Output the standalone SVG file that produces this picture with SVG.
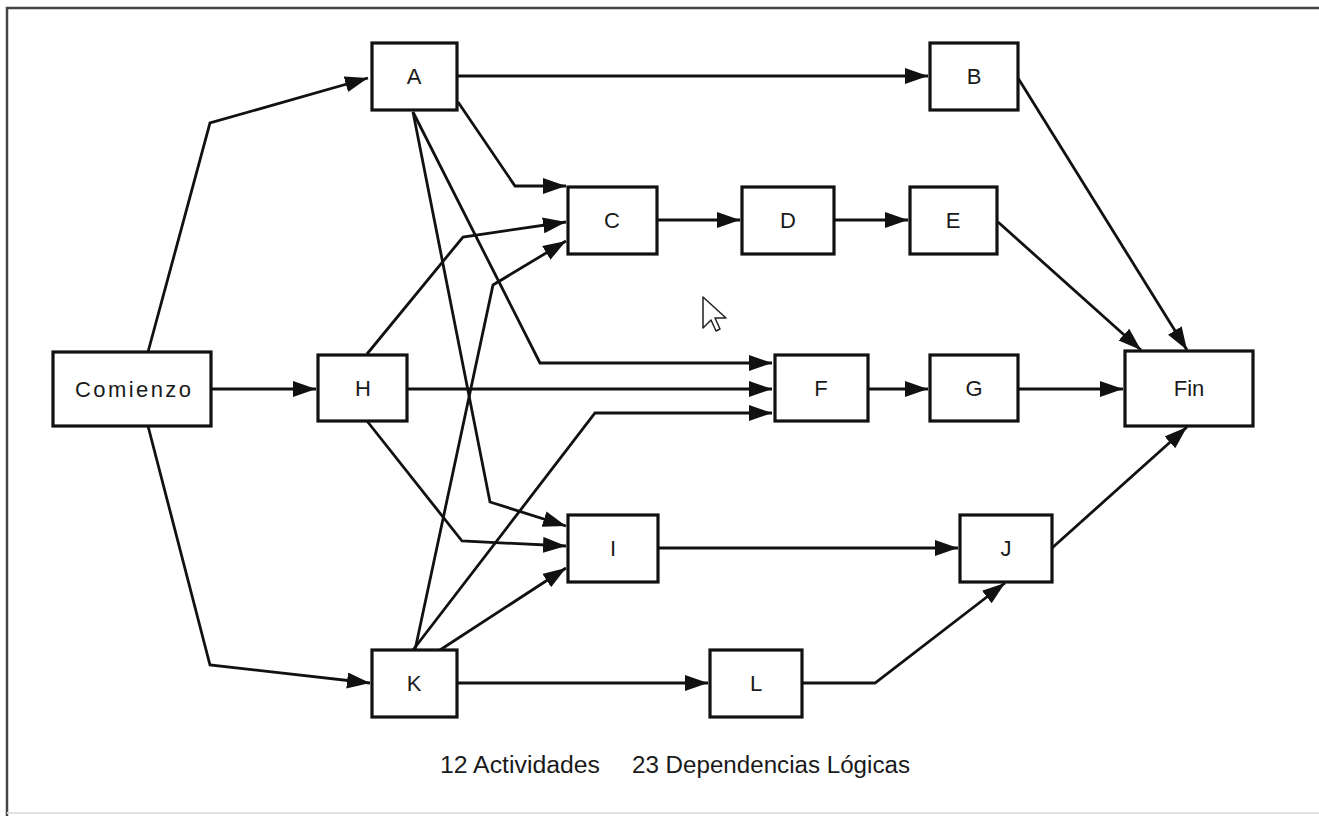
<svg xmlns="http://www.w3.org/2000/svg" width="1319" height="816" viewBox="0 0 1319 816">
<style>
.box{fill:#fff;stroke:#111;stroke-width:3.2}
.lbl{font-family:"Liberation Sans",Arial,sans-serif;font-size:22px;fill:#1a1a1a;text-anchor:middle}
.e{fill:none;stroke:#111;stroke-width:2.8;stroke-linejoin:miter;marker-end:url(#ah)}
.note{font-family:"Liberation Sans",Arial,sans-serif;font-size:23px;fill:#1a1a1a}
</style>
<defs>
<marker id="ah" markerUnits="userSpaceOnUse" markerWidth="26" markerHeight="18" refX="23" refY="8" orient="auto">
<path d="M0,0 L23,8 L0,16 z" fill="#111"/>
</marker>
</defs>
<rect width="1319" height="816" fill="#fff"/>
<g id="frame" fill="none">
<path d="M7,816 V8 H1319" stroke="#444" stroke-width="2.5"/>
<path d="M7,813 H1319" stroke="#e2e2e2" stroke-width="2"/>
</g>
<g id="connectors">
<polyline class="e" points="148,352 210,123 368,78"/>
<polyline class="e" points="211,389 316,389"/>
<polyline class="e" points="148,426 210,665 370,683"/>
<polyline class="e" points="457,76 928,76"/>
<polyline class="e" points="458,102 515,186 566,186"/>
<polyline class="e" points="413,112 540,363 772,363"/>
<polyline class="e" points="413,112 490,502 566,526"/>
<polyline class="e" points="367,354 463,237 566,222"/>
<polyline class="e" points="407,389 772,389"/>
<polyline class="e" points="367,421 462,541 566,546"/>
<polyline class="e" points="415,650 493,285 566,241"/>
<polyline class="e" points="413,650 595,413 772,413"/>
<polyline class="e" points="440,650 566,568"/>
<polyline class="e" points="457,683 708,683"/>
<polyline class="e" points="657,220 740,220"/>
<polyline class="e" points="834,220 908,220"/>
<polyline class="e" points="868,389 928,389"/>
<polyline class="e" points="1018,389 1123,389"/>
<polyline class="e" points="1018,78 1187,350"/>
<polyline class="e" points="998,222 1141,350"/>
<polyline class="e" points="658,548 958,548"/>
<polyline class="e" points="802,683 875,683 1005,583"/>
<polyline class="e" points="1052,548 1187,427"/>
</g>
<g id="node-comienzo"><rect class="box" x="53" y="352" width="158" height="74"/><text class="lbl" x="133" y="397" font-size="23" textLength="116" lengthAdjust="spacing">Comienzo</text></g>
<g id="node-A"><rect class="box" x="372" y="43" width="85" height="67"/><text class="lbl" x="414" y="84">A</text></g>
<g id="node-B"><rect class="box" x="930" y="43" width="88" height="67"/><text class="lbl" x="974" y="84">B</text></g>
<g id="node-C"><rect class="box" x="568" y="187" width="89" height="67"/><text class="lbl" x="612" y="228">C</text></g>
<g id="node-D"><rect class="box" x="742" y="187" width="92" height="67"/><text class="lbl" x="788" y="228">D</text></g>
<g id="node-E"><rect class="box" x="910" y="187" width="87" height="67"/><text class="lbl" x="953" y="228">E</text></g>
<g id="node-H"><rect class="box" x="318" y="355" width="89" height="66"/><text class="lbl" x="363" y="396">H</text></g>
<g id="node-F"><rect class="box" x="775" y="355" width="93" height="66"/><text class="lbl" x="821" y="396">F</text></g>
<g id="node-G"><rect class="box" x="930" y="355" width="88" height="66"/><text class="lbl" x="974" y="396">G</text></g>
<g id="node-fin"><rect class="box" x="1125" y="351" width="128" height="75"/><text class="lbl" x="1189" y="396">Fin</text></g>
<g id="node-I"><rect class="box" x="568" y="515" width="90" height="67"/><text class="lbl" x="613" y="556">I</text></g>
<g id="node-J"><rect class="box" x="960" y="515" width="92" height="67"/><text class="lbl" x="1006" y="556">J</text></g>
<g id="node-K"><rect class="box" x="372" y="650" width="85" height="67"/><text class="lbl" x="414" y="691">K</text></g>
<g id="node-L"><rect class="box" x="710" y="650" width="92" height="67"/><text class="lbl" x="756" y="691">L</text></g>
<g id="cursor"><path d="M703,297 V328 L711,320 L716,331 L720,329 L715,318 L726,318 Z" fill="#fff" stroke="#222" stroke-width="1.5" stroke-linejoin="round"/></g>
<g id="caption">
<text class="note" x="440" y="773" textLength="160" lengthAdjust="spacingAndGlyphs">12 Actividades</text>
<text class="note" x="632" y="773" textLength="278" lengthAdjust="spacingAndGlyphs">23 Dependencias Lógicas</text>
</g>
</svg>
